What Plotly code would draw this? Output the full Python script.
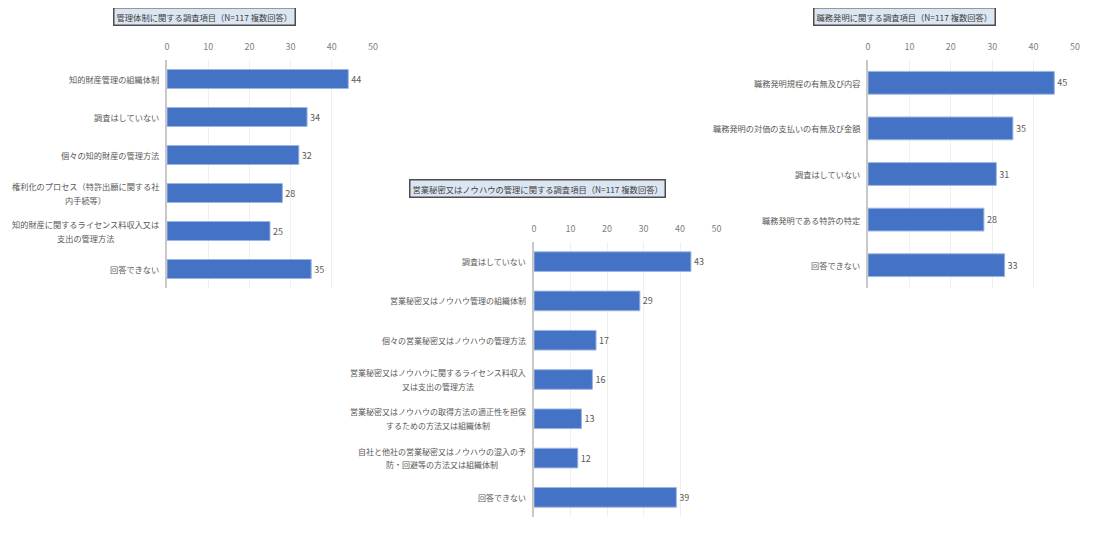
import plotly.graph_objects as go

FONT = "Noto Sans CJK JP"

# ---- Chart 1: 管理体制 ----
title1 = "管理体制に関する調査項目（N=117 複数回答）"
cats1 = [
    "知的財産管理の組織体制",
    "調査はしていない",
    "個々の知的財産の管理方法",
    "権利化のプロセス（特許出願に関する社<br>内手続等）",
    "知的財産に関するライセンス料収入又は<br>支出の管理方法",
    "回答できない",
]
vals1 = [44, 34, 32, 28, 25, 35]

# ---- Chart 2: 営業秘密又はノウハウ ----
title2 = "営業秘密又はノウハウの管理に関する調査項目（N=117 複数回答）"
cats2 = [
    "調査はしていない",
    "営業秘密又はノウハウ管理の組織体制",
    "個々の営業秘密又はノウハウの管理方法",
    "営業秘密又はノウハウに関するライセンス料収入<br>又は支出の管理方法",
    "営業秘密又はノウハウの取得方法の適正性を担保<br>するための方法又は組織体制",
    "自社と他社の営業秘密又はノウハウの混入の予<br>防・回避等の方法又は組織体制",
    "回答できない",
]
vals2 = [43, 29, 17, 16, 13, 12, 39]

# ---- Chart 3: 職務発明 ----
title3 = "職務発明に関する調査項目（N=117 複数回答）"
cats3 = [
    "職務発明規程の有無及び内容",
    "職務発明の対価の支払いの有無及び金額",
    "調査はしていない",
    "職務発明である特許の特定",
    "回答できない",
]
vals3 = [45, 35, 31, 28, 33]

x_ticks = [0, 10, 20, 30, 40, 50]

# page body has an 8px offset; figure drawn from (8,8)
OFF = 8
W, Hh = 1110, 538

def px_x(v):
    return (v - OFF) / W

def px_y(v):
    return 1 - (v - OFF) / Hh

panels = [
    dict(cats=cats1, vals=vals1, title=title1, xd=[px_x(167), px_x(373)], yd=[px_y(288), px_y(60)],
         tx=px_x(204), ty=px_y(16.5), fs=8.2),
    dict(cats=cats2, vals=vals2, title=title2, xd=[px_x(534), px_x(716.5)], yd=[px_y(517), px_y(242)],
         tx=px_x(537.5), ty=px_y(189), fs=8.0),
    dict(cats=cats3, vals=vals3, title=title3, xd=[px_x(868), px_x(1075)], yd=[px_y(288), px_y(60)],
         tx=px_x(904.5), ty=px_y(16.5), fs=8.2),
]

LINE_GAP = 13.6  # px between wrapped label lines
LABEL_PAD = 6    # px between label and axis

fig = go.Figure()
layout = dict(
    width=W, height=Hh,
    margin=dict(l=0, r=0, t=0, b=0),
    paper_bgcolor="white", plot_bgcolor="white",
    showlegend=False,
    font=dict(family=FONT, color="#595959"),
    annotations=[],
)

for i, p in enumerate(panels, start=1):
    xa = "x" if i == 1 else f"x{i}"
    ya = "y" if i == 1 else f"y{i}"
    fig.add_trace(go.Bar(
        x=p["vals"], y=p["cats"], orientation="h",
        xaxis=xa, yaxis=ya,
        width=0.5,
        marker=dict(color="#4472C4", line=dict(color="#9DB5E3", width=1)),
        text=[str(v) for v in p["vals"]], textposition="outside",
        textfont=dict(family=FONT, size=9, color="#595959"),
        cliponaxis=False,
    ))
    xkey = "xaxis" if i == 1 else f"xaxis{i}"
    ykey = "yaxis" if i == 1 else f"yaxis{i}"
    layout[xkey] = dict(
        domain=p["xd"], anchor=ya, side="top", range=[0, 50],
        tickvals=x_ticks, ticktext=[str(t) for t in x_ticks],
        tickfont=dict(family=FONT, size=9, color="#808080"),
        showgrid=True, gridcolor="#EFEFEF", gridwidth=1,
        zeroline=False, showline=False,
        ticks="outside", ticklen=5, tickcolor="rgba(0,0,0,0)",
        automargin=False, fixedrange=True,
    )
    layout[ykey] = dict(
        domain=p["yd"], anchor=xa, autorange="reversed",
        categoryorder="array", categoryarray=p["cats"],
        showticklabels=False,
        showline=True, linecolor="#C8C8C8", linewidth=1.5,
        showgrid=False, zeroline=False, ticks="",
        automargin=False, fixedrange=True,
    )
    # category labels: wrapped lines centred on each other, block right-aligned at the axis
    for c in p["cats"]:
        lines = c.split("<br>")
        n = len(lines)
        maxlen = max(len(s) for s in lines)
        for k, s in enumerate(lines):
            layout["annotations"].append(dict(
                x=0, y=c, xref=xa, yref=ya, text=s, showarrow=False,
                xanchor="right", yanchor="middle",
                xshift=-LABEL_PAD - (maxlen - len(s)) * p["fs"] / 2,
                yshift=((n - 1) / 2 - k) * LINE_GAP,
                font=dict(family=FONT, size=p["fs"], color="#595959"),
            ))
    layout["annotations"].append(dict(
        x=p["tx"], y=p["ty"], xref="paper", yref="paper",
        text=p["title"], showarrow=False,
        font=dict(family=FONT, size=8.3, color="#404040"),
        bgcolor="#DCE6F2", bordercolor="#4D4D4D", borderwidth=1.5, borderpad=2,
        xanchor="center", yanchor="middle",
    ))

fig.update_layout(**layout)
fig.write_html("out.html")
